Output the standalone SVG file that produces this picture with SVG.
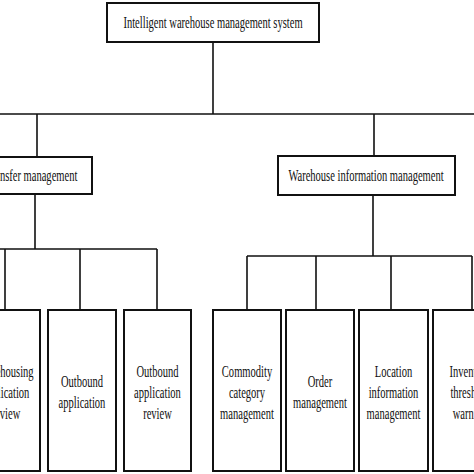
<svg xmlns="http://www.w3.org/2000/svg" width="474" height="474" viewBox="0 0 474 474">
<style>
.box{fill:#fff;stroke:#111;stroke-width:2}
.ln{fill:none;stroke:#111;stroke-width:1.6}
.t{font-family:"Liberation Serif","Times New Roman",serif;font-size:17px;fill:#111;text-anchor:middle}
</style>
<rect width="474" height="474" fill="#fff"/>
<g id="connectors" class="ln">
<path d="M213 42V114M0 114H474M37 114V157M374 114V156"/>
<path d="M35 194V249M0 249H157M5 249V310M80 249V310M157 249V310"/>
<path d="M373 195V256M247 256H472M247 256V310M316 256V310M391 256V310M472 256V310"/>
</g>
<g id="root"><rect class="box" x="107" y="3" width="212" height="39"/><text class="t" transform="translate(213 28) scale(0.62 1)">Intelligent warehouse management system</text></g>
<g id="transfer"><rect class="box" x="-85" y="157" width="177" height="37"/><text class="t" transform="translate(31.5 181) scale(0.62 1)">Transfer management</text></g>
<g id="info"><rect class="box" x="278" y="156" width="177" height="39"/><text class="t" transform="translate(366 181) scale(0.62 1)">Warehouse information management</text></g>
<g id="n1"><rect class="box" x="-28" y="310" width="68" height="161"/><text class="t" transform="translate(6 377) scale(0.62 1)"><tspan x="0">Warehousing</tspan><tspan x="0" dy="21">application</tspan><tspan x="0" dy="21">review</tspan></text></g>
<g id="n2"><rect class="box" x="48" y="310" width="68" height="161"/><text class="t" transform="translate(82 387) scale(0.62 1)"><tspan x="0">Outbound</tspan><tspan x="0" dy="21">application</tspan></text></g>
<g id="n3"><rect class="box" x="124" y="310" width="67" height="161"/><text class="t" transform="translate(157.5 377) scale(0.62 1)"><tspan x="0">Outbound</tspan><tspan x="0" dy="21">application</tspan><tspan x="0" dy="21">review</tspan></text></g>
<g id="n4"><rect class="box" x="213" y="310" width="68" height="161"/><text class="t" transform="translate(247 377) scale(0.62 1)"><tspan x="0">Commodity</tspan><tspan x="0" dy="21">category</tspan><tspan x="0" dy="21">management</tspan></text></g>
<g id="n5"><rect class="box" x="286" y="310" width="68" height="161"/><text class="t" transform="translate(320 387) scale(0.62 1)"><tspan x="0">Order</tspan><tspan x="0" dy="21">management</tspan></text></g>
<g id="n6"><rect class="box" x="359" y="310" width="69" height="161"/><text class="t" transform="translate(393.5 377) scale(0.62 1)"><tspan x="0">Location</tspan><tspan x="0" dy="21">information</tspan><tspan x="0" dy="21">management</tspan></text></g>
<g id="n7"><rect class="box" x="433" y="310" width="74" height="161"/><text class="t" transform="translate(470 377) scale(0.62 1)"><tspan x="0">Inventory</tspan><tspan x="0" dy="21">threshold</tspan><tspan x="0" dy="21">warning</tspan></text></g>
</svg>
